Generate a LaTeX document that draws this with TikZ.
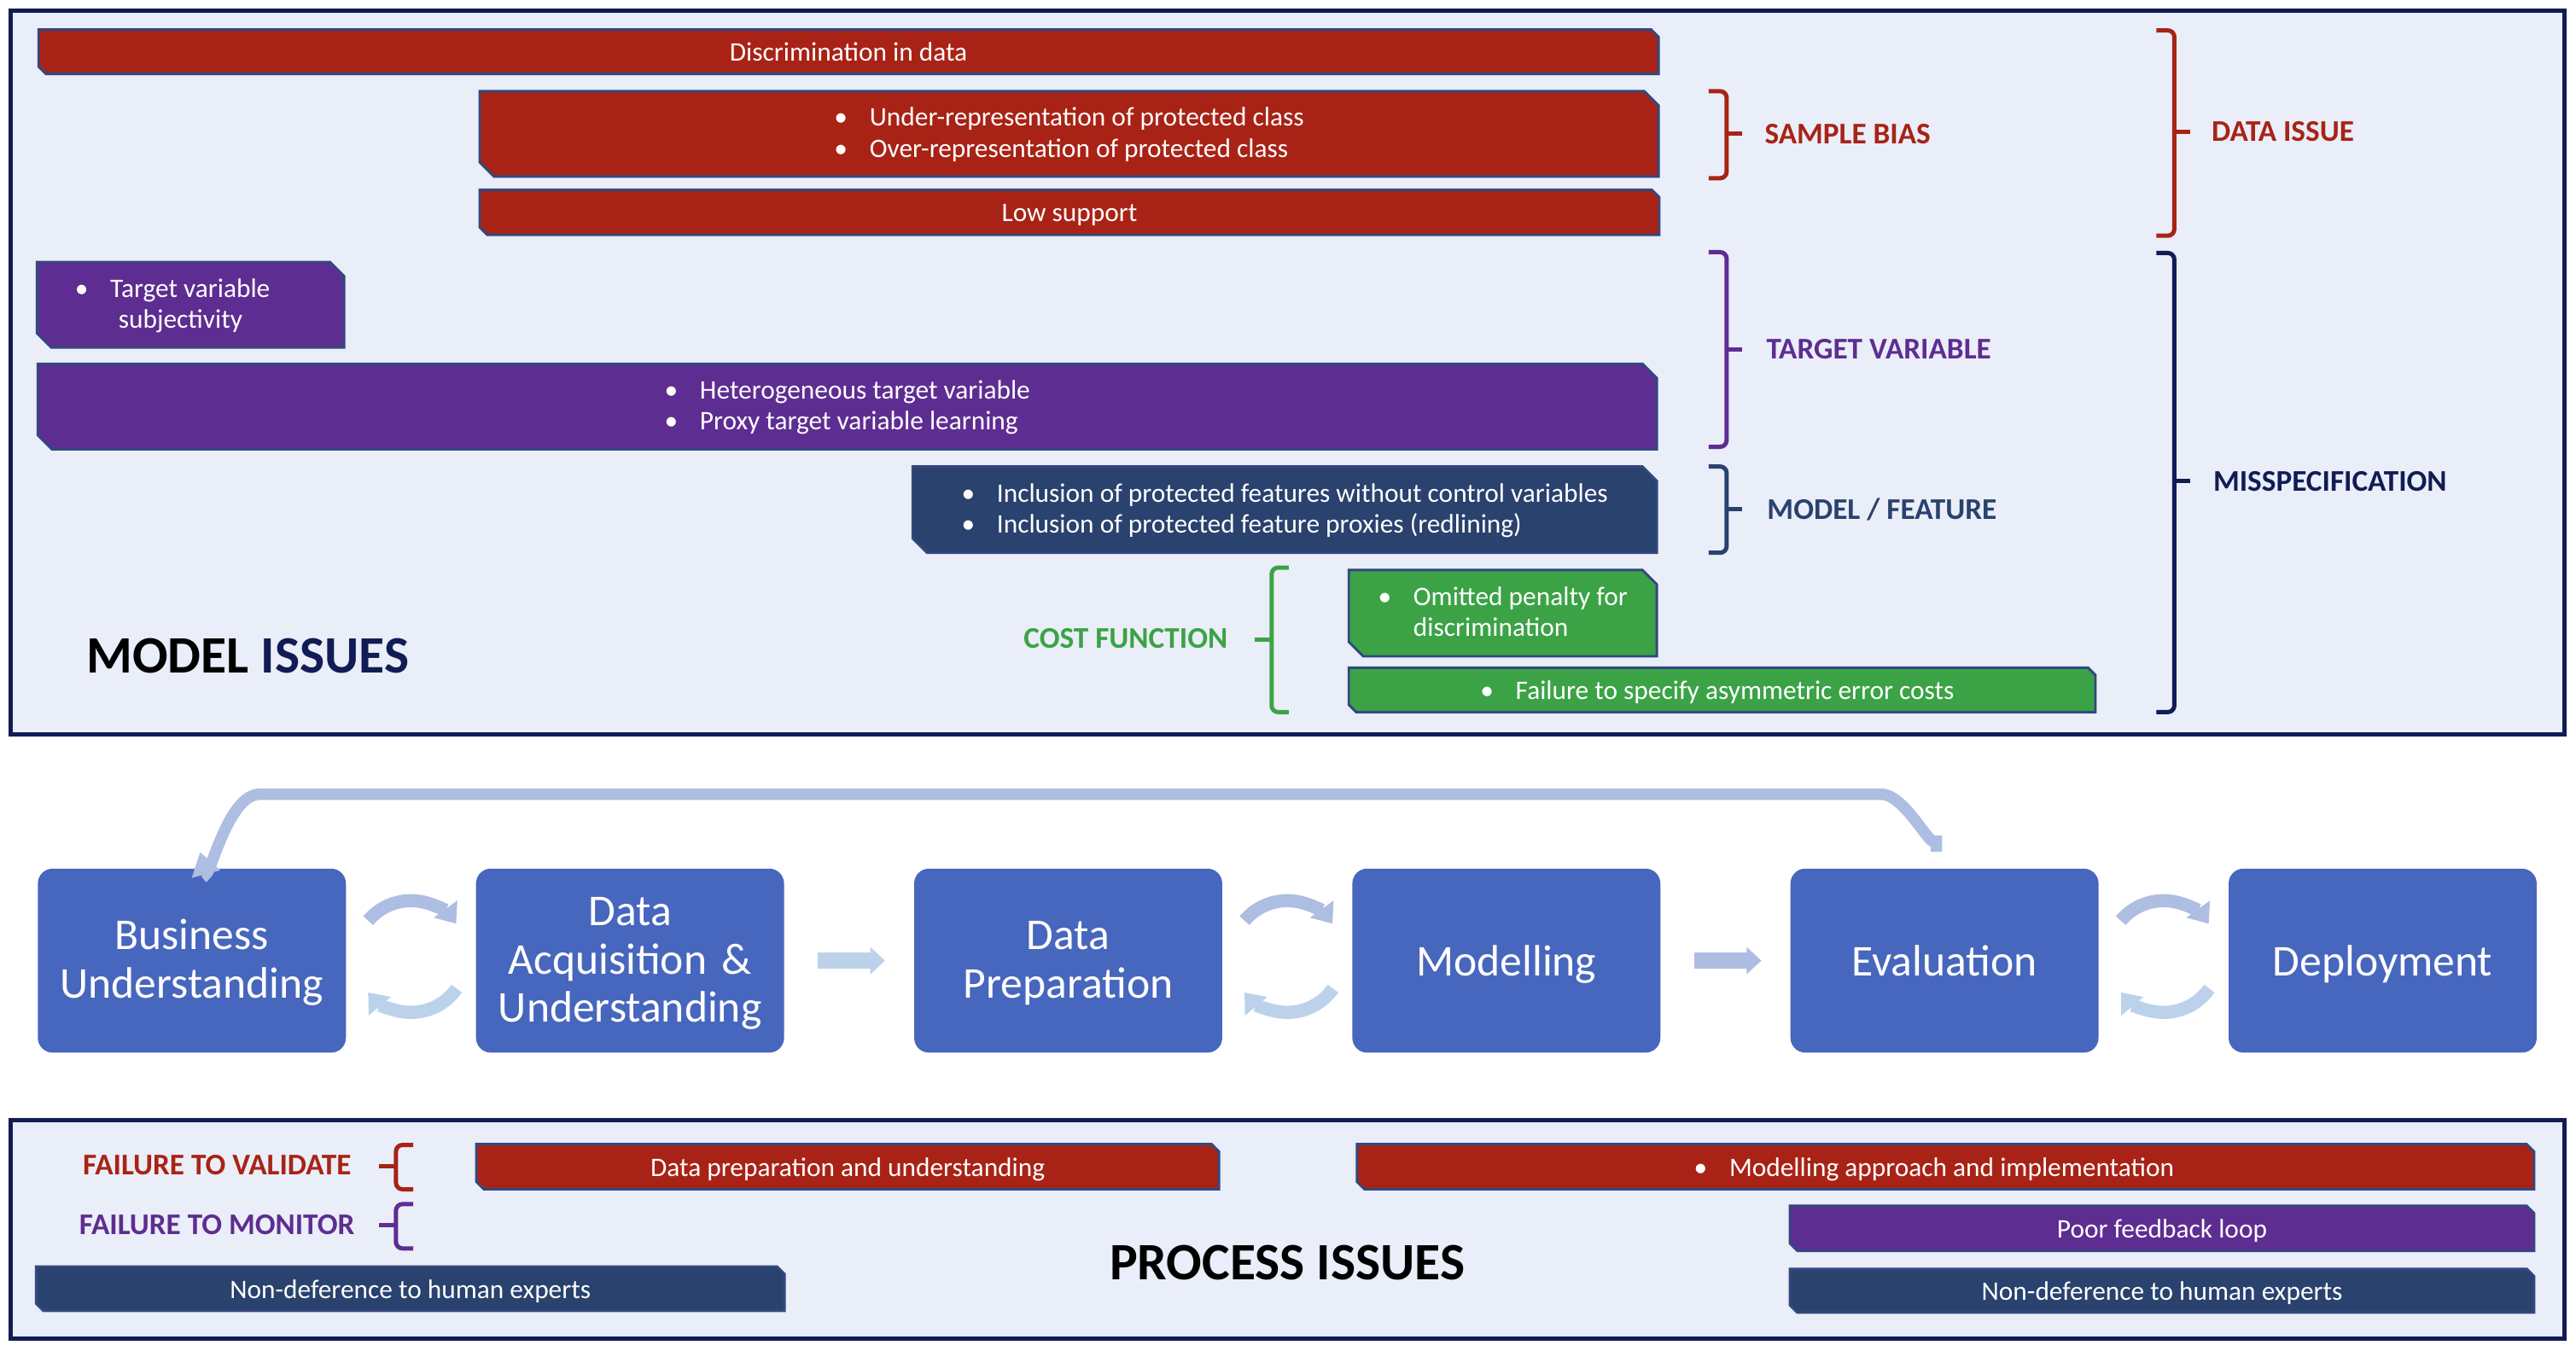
\documentclass[tikz,border=0pt]{standalone}
\usepackage{fontspec}
\setmainfont{Carlito}
\usetikzlibrary{arrows.meta,positioning,calc}
\definecolor{IRed}{HTML}{A82316}
\definecolor{IPurple}{HTML}{5E2D91}
\definecolor{INavy}{HTML}{29426E}
\definecolor{IGreen}{HTML}{3BA346}
\definecolor{IEdge}{HTML}{33487F}
\definecolor{IDark}{HTML}{111C55}
\definecolor{IPanel}{HTML}{EAEEF8}
\definecolor{PBlue}{HTML}{4766BD}
\definecolor{PArrow}{HTML}{AEBEE2}
\definecolor{PArrowLt}{HTML}{BCD2EB}

\newcommand{\bul}{\makebox[21.5pt][l]{\textbullet}}
% issue bar: snipped corners top right and bottom left
\newcommand{\issuebar}[8][]{%
  \pgfmathsetmacro{\barcut}{(#7-#5)/6}%
  \draw[bar,fill=#3] (#4,#5) -- ({#6-\barcut},#5) -- (#6,{#5+\barcut})
    -- (#6,#7) -- ({#4+\barcut},#7) -- (#4,{#7-\barcut}) -- cycle;
  \node[bartext,#1] (#2) at ({(#4+#6)/2},{(#5+#7)/2}) {#8};}
\newcommand{\closebrace}[5]{%
  \draw[brc,#1] ({#2-11},#3) -- (#2,#3) -- (#2,#4) -- ({#2-11},#4);
  \draw[brc,#1,sharp corners] (#2,#5) -- ({#2+9.5},#5);}
\newcommand{\openbrace}[5]{%
  \draw[brc,#1] ({#2+10.5},#3) -- (#2,#3) -- (#2,#4) -- ({#2+10.5},#4);
  \draw[brc,#1,sharp corners] (#2,#5) -- ({#2-10.5},#5);}

\begin{document}
\begin{tikzpicture}[x=1pt,y=-1pt,
  panel/.style={draw=IDark,line width=2.6pt,fill=IPanel},
  bar/.style={draw=IEdge,line width=1.5pt},
  bartext/.style={text=white,font=\fontsize{16.3}{19}\selectfont,inner sep=0pt,
    align=center,yshift=-2pt,
    execute at begin node=\strut,execute at end node=\strut},
  tag/.style={font=\fontsize{18.3}{21}\bfseries\selectfont,inner sep=0pt,
    text height=11.8pt,text depth=0pt},
  title/.style={font=\fontsize{32}{36}\bfseries\selectfont,inner sep=0pt,
    text height=20.6pt,text depth=0pt},
  brc/.style={line width=2.6pt,rounded corners=4pt},
  stage/.style={rectangle,rounded corners=9pt,fill=PBlue,text=white,
    minimum width=187.5pt,minimum height=112pt,text width=184pt,align=center,
    inner sep=0pt,font=\fontsize{26.8}{29.5}\selectfont},
  tall/.style={execute at begin node=\strut},
  cyc/.style={line width=8pt,-{Triangle[length=11pt,width=17pt]}},
  blk/.style={line width=10pt,-{Triangle[length=9pt,width=16pt]}},
  fb/.style={draw=PArrow,line width=7pt,-{Triangle[length=14pt,width=17pt]}}
]
\useasboundingbox (0,0) rectangle (1568,822);
\fill[white] (0,0) rectangle (1568,822);

% model issues
\draw[panel] (6.6,6.5) rectangle (1561,447);
\issuebar{disc}{IRed}{23.5}{18}{1009.5}{45}{Discrimination in data}
\issuebar[align=left]{samp}{IRed}{292}{55.5}{1009.5}{107.5}
  {\bul Under-representation of protected class\\\bul Over-representation of protected class}
\issuebar{lows}{IRed}{292}{115.5}{1010}{143}{Low support}
\issuebar[align=left,xshift=-11pt]{tsub}{IPurple}{22.5}{159.5}{209.5}{211.5}
  {\bul Target variable\\\hphantom{\bul}\hspace{5pt}subjectivity}
\issuebar[align=left]{hetr}{IPurple}{23}{221.5}{1008.5}{273.5}
  {\bul Heterogeneous target variable\\\bul Proxy target variable learning}
\issuebar[align=left]{feat}{INavy}{555.5}{284}{1008.5}{336.5}
  {\bul Inclusion of protected features without control variables\\\bul Inclusion of protected feature proxies (redlining)}
\issuebar[align=left]{pen}{IGreen}{821}{347}{1008.5}{399.5}
  {\bul Omitted penalty for\\\hphantom{\bul}discrimination}
\issuebar[xshift=-3pt]{asym}{IGreen}{821}{406.5}{1275.5}{433.5}{\bul Failure to specify asymmetric error costs}

\closebrace{IRed}{1051}{55.5}{108.5}{81.5}
\closebrace{IRed}{1323.5}{18.5}{143.5}{80.5}
\closebrace{IPurple}{1051}{153.5}{272}{212.5}
\closebrace{INavy}{1051}{284}{336.5}{310}
\closebrace{IDark}{1323.5}{154}{433.5}{293}
\openbrace{IGreen}{774}{345.5}{433.5}{389.5}

\node[tag,anchor=west,text=IRed] (sbias) at (1074,81.5) {SAMPLE BIAS};
\node[tag,anchor=west,text=IRed] (dissue) at (1346,80) {DATA ISSUE};
\node[tag,anchor=west,text=IPurple] (tvar) at (1075,212.5) {TARGET VARIABLE};
\node[tag,anchor=west,text=INavy] (mfeat) at (1075.5,310) {MODEL / FEATURE};
\node[tag,anchor=west,text=IDark] (misspec) at (1347,293) {MISSPECIFICATION};
\node[tag,anchor=east,text=IGreen] (costf) at (747.5,388.5) {COST FUNCTION};
\node[title,anchor=west] (mtitle) at (52.5,399.5) {MODEL \textcolor{IDark}{ISSUES}};

% process
\node[stage,tall] (bu) at (116.8,584.8) {Business\\Understanding};
\node[stage,tall,right=78.8pt of bu] (da) {Data\\Acquisition \&\\Understanding};
\node[stage,tall,right=78.8pt of da] (dp) {Data\\Preparation};
\node[stage,right=78.8pt of dp,text depth=0pt] (mo) {Modelling};
\node[stage,right=78.8pt of mo] (ev) {Evaluation};
\node[stage,right=78.8pt of ev,text depth=0pt] (de) {Deployment};

\foreach \a/\b in {bu/da,dp/mo,ev/de}{
  \coordinate (mid) at ($(\a.east)!.5!(\b.west)+(0,-2.5)$);
  \draw[cyc,PArrow] (mid) ++(220:34) arc[start angle=220,end angle=324,radius=34];
  \draw[cyc,PArrowLt] (mid) ++(35:34) arc[start angle=35,end angle=140,radius=34];
}
\foreach \a/\b/\c in {da/dp/PArrowLt,mo/ev/PArrow}
  {\draw[blk,\c] ([xshift=20.5pt]\a.east) -- ([xshift=-17.5pt]\b.west);}

\coordinate (loopR) at (1145,483.5);
\coordinate (loopL) at (158,483.5);
\draw[fb] ([xshift=-5pt,yshift=10pt]ev.north) -- ++(0,-10) to[out=-90,in=0] (loopR)
  -- (loopL) to[out=180,in=-75] ([xshift=5pt,yshift=10pt]bu.north);

% process issues
\draw[panel] (6.6,682) rectangle (1561,815);
\issuebar{vprep}{IRed}{290}{696.5}{742}{724}{Data preparation and understanding}
\issuebar[xshift=-7pt]{vmod}{IRed}{826}{696.5}{1542.5}{724}{\bul Modelling approach and implementation}
\issuebar{mloop}{IPurple}{1089.5}{734}{1542.5}{761.5}{Poor feedback loop}
\issuebar{hexpl}{INavy}{22}{771}{477.5}{798}{Non-deference to human experts}
\issuebar{hexpr}{INavy}{1089.5}{772.5}{1542.5}{799}{Non-deference to human experts}

\openbrace{IRed}{241}{697}{724}{710}
\openbrace{IPurple}{241}{733}{760}{746}
\node[tag,anchor=east,text=IRed] (fval) at (214,709.5) {FAILURE TO VALIDATE};
\node[tag,anchor=east,text=IPurple] (fmon) at (216,745.5) {FAILURE TO MONITOR};
\node[title] (ptitle) at (783.5,769) {PROCESS ISSUES};
\end{tikzpicture}
\end{document}
